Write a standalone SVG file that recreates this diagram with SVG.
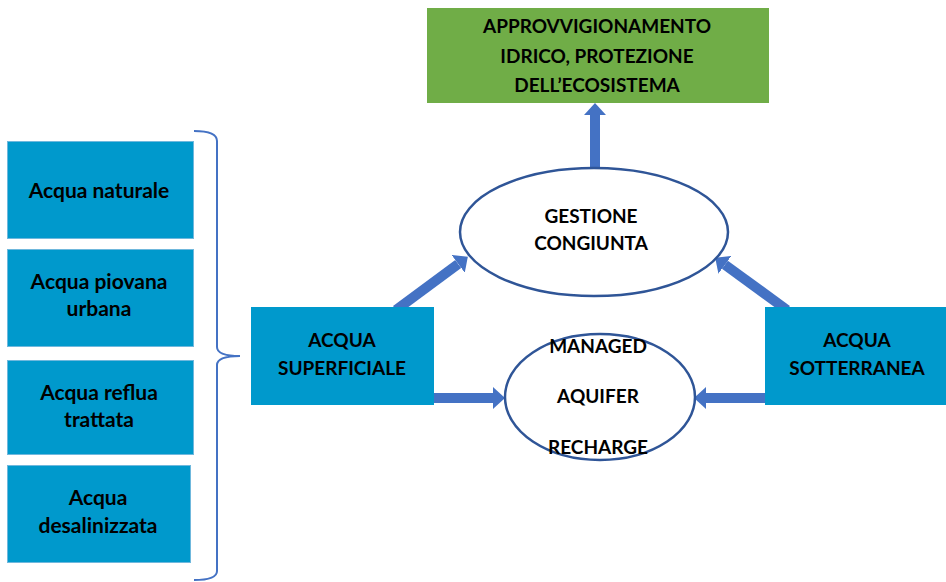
<svg xmlns="http://www.w3.org/2000/svg" width="946" height="582" viewBox="0 0 946 582">
<defs>
<marker id="ah" viewBox="0 0 12 22" markerWidth="12" markerHeight="22" refX="0" refY="11" orient="auto" markerUnits="userSpaceOnUse">
<path d="M0,0 L12,11 L0,22 z" fill="#4472C4"/>
</marker>
<style>
.src{fill:#0099CC;stroke:#6FB8DD;stroke-width:1}
.main{fill:#0099CC}
.goal{fill:#70AD47}
.ell{fill:#FFFFFF;stroke:#2F5597;stroke-width:2.5}
.arr{stroke:#4472C4;stroke-width:10;fill:none;marker-end:url(#ah)}
.brace{fill:none;stroke:#4472C4;stroke-width:2}
text{font-family:Lato,"Open Sans","Liberation Sans",sans-serif;font-weight:bold;font-size:19px;fill:#000;text-anchor:middle}
.lt{font-size:21px}
</style>
</defs>
<rect width="946" height="582" fill="#FFFFFF"/>
<g id="connectors">
<line class="arr" x1="595" y1="170" x2="595" y2="115"/>
<line class="arr" x1="396" y1="310" x2="458.2" y2="263.9"/>
<line class="arr" x1="787" y1="310" x2="724.9" y2="264.8"/>
<line class="arr" x1="430" y1="398" x2="493" y2="398"/>
<line class="arr" x1="770" y1="398" x2="706" y2="398"/>
</g>
<g id="brace">
<path class="brace" d="M194,131 Q217,131 217,141 L217,347 Q217,356 240,356 Q217,356 217,365 L217,571 Q217,580 194,580"/>
</g>
<g id="n-naturale">
<rect class="src" x="7.5" y="141.5" width="186" height="97"/>
<text class="lt" x="99" y="198">Acqua naturale</text>
</g>
<g id="n-piovana">
<rect class="src" x="7.5" y="249.5" width="186" height="97"/>
<text class="lt" x="99" y="289">Acqua piovana</text>
<text class="lt" x="99" y="316">urbana</text>
</g>
<g id="n-reflua">
<rect class="src" x="7.5" y="360.5" width="186" height="94"/>
<text class="lt" x="99" y="400">Acqua reflua</text>
<text class="lt" x="99" y="427">trattata</text>
</g>
<g id="n-desal">
<rect class="src" x="7.5" y="465.5" width="183" height="97"/>
<text class="lt" x="98" y="505">Acqua</text>
<text class="lt" x="98" y="533">desalinizzata</text>
</g>
<g id="n-superficiale">
<rect class="main" x="251" y="307" width="183" height="98"/>
<text x="342" y="347">ACQUA</text>
<text x="342" y="375">SUPERFICIALE</text>
</g>
<g id="n-sotterranea">
<rect class="main" x="765" y="307" width="181" height="98"/>
<text x="857" y="347">ACQUA</text>
<text x="857" y="375">SOTTERRANEA</text>
</g>
<g id="n-mar">
<ellipse class="ell" cx="600" cy="397" rx="95" ry="63"/>
<text x="598" y="353">MANAGED</text>
<text x="598" y="403">AQUIFER</text>
<text x="598" y="454">RECHARGE</text>
</g>
<g id="n-gestione">
<ellipse class="ell" cx="594" cy="232" rx="134" ry="64"/>
<text x="591" y="223">GESTIONE</text>
<text x="591" y="250">CONGIUNTA</text>
</g>
<g id="n-goal">
<rect class="goal" x="427" y="8" width="342" height="95"/>
<text x="597" y="33">APPROVVIGIONAMENTO</text>
<text x="597" y="63">IDRICO, PROTEZIONE</text>
<text x="597" y="92">DELL’ECOSISTEMA</text>
</g>
</svg>
